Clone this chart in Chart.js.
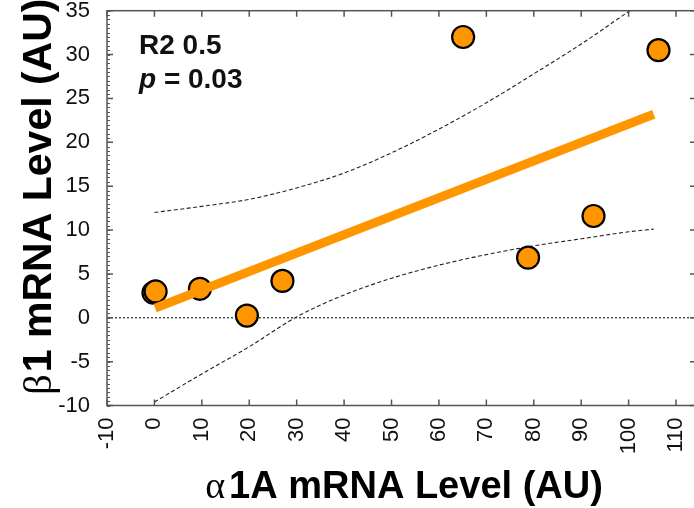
<!DOCTYPE html>
<html><head><meta charset="utf-8">
<script src="https://cdn.jsdelivr.net/npm/chart.js@4.4.0/dist/chart.umd.min.js"></script>
<style>
html,body{margin:0;padding:0;background:#fff;overflow:hidden;width:694px;height:508px}
#wrap{position:absolute;left:0;top:0;width:700px;height:508px}
</style></head>
<body><div id="wrap"><canvas id="c" width="700" height="508"></canvas></div>
<script>
// ---- data ----
const xTickValues = [-10, 0, 10, 20, 30, 40, 50, 60, 70, 80, 90, 100, 110];
const yTickValues = [-10, -5, 0, 5, 10, 15, 20, 25, 30, 35];
const sampleX = [-0.2, 0.25, 9.6, 19.5, 27.0, 65.1, 78.8, 92.6, 106.3];
const sampleY = [2.85, 3.0, 3.3, 0.25, 4.2, 32.0, 6.85, 11.6, 30.5];
const fitX = [0.15, 105.3];
const fitY = [1.1, 23.2];
const bandX = [0, 10, 20, 30, 40, 50, 60, 70, 80, 90, 100, 105.3];
const upperY = [12.0, 12.7, 13.5, 14.8, 16.5, 18.8, 21.5, 24.5, 27.8, 31.2, 34.9, 36.8];
const lowerY = [-9.6, -6.4, -3.3, 0.1, 2.6, 4.5, 6.0, 7.2, 8.2, 9.0, 9.8, 10.1];
const refLineY = 0;
const statLine1 = "R2 0.5";
const statP = "p";
const statLine2 = " = 0.03";
const xTitleGreek = "\u03B1";
const xTitleRest = "1A mRNA Level (AU)";
const yTitleGreek = "\u03B2";
const yTitleRest = "1 mRNA Level (AU)";

const zip = (xs, ys) => xs.map((x, i) => ({x: x, y: ys[i]}));

const ORANGE = '#FF9600';
const SANS = '"Liberation Sans", Arial, Helvetica, sans-serif';
const SERIF = '"Liberation Serif", "DejaVu Serif", serif';

const decor = {
  id: 'decor',
  beforeDatasetsDraw(chart) {
    const {ctx, chartArea: a, scales: {y}} = chart;
    const py = y.getPixelForValue(refLineY);
    ctx.save();
    ctx.strokeStyle = '#222';
    ctx.lineWidth = 1.2;
    ctx.setLineDash([2, 2]);
    ctx.beginPath(); ctx.moveTo(a.left, py); ctx.lineTo(a.right, py); ctx.stroke();
    ctx.restore();
  },
  afterDraw(chart) {
    const {ctx, chartArea: a, scales: {x, y}} = chart;
    ctx.save();
    ctx.strokeStyle = '#555';
    ctx.lineWidth = 1.5;
    ctx.strokeRect(a.left, a.top, a.right - a.left, a.bottom - a.top);
    ctx.beginPath();
    xTickValues.forEach(v => {
      const px = x.getPixelForValue(v);
      ctx.moveTo(px, a.bottom); ctx.lineTo(px, a.bottom - 6);
      ctx.moveTo(px, a.top); ctx.lineTo(px, a.top + 6);
    });
    yTickValues.forEach(v => {
      const py = y.getPixelForValue(v);
      ctx.moveTo(a.left, py); ctx.lineTo(a.left + 6, py);
      ctx.moveTo(a.right, py); ctx.lineTo(a.right - 5, py);
    });
    ctx.stroke();
    ctx.lineWidth = 1;
    ctx.beginPath();
    for (let v = y.min; v <= y.max; v += 0.5) {
      const py = Math.round(y.getPixelForValue(v)) + 0.5;
      ctx.moveTo(a.left, py); ctx.lineTo(a.left + 3, py);
    }
    ctx.stroke();

    // stats annotation
    ctx.fillStyle = '#111';
    ctx.textBaseline = 'alphabetic';
    ctx.textAlign = 'left';
    ctx.font = 'bold 28px ' + SANS;
    ctx.fillText(statLine1, 139, 54);
    ctx.font = 'italic bold 28px ' + SANS;
    ctx.fillText(statP, 139, 88);
    const pw = ctx.measureText(statP).width;
    ctx.font = 'bold 28px ' + SANS;
    ctx.fillText(statLine2, 139 + pw, 88);

    // x title
    ctx.fillStyle = '#000';
    ctx.font = '38px ' + SERIF;
    const gw = ctx.measureText(xTitleGreek).width;
    ctx.font = 'bold 38px ' + SANS;
    const rw = ctx.measureText(xTitleRest).width;
    const cx = 404;
    let sx = cx - (gw + rw + 4) / 2;
    ctx.font = '38px ' + SERIF;
    ctx.fillText(xTitleGreek, sx, 498);
    ctx.font = 'bold 38px ' + SANS;
    ctx.fillText(xTitleRest, sx + gw + 4, 498);

    // y title
    ctx.translate(51, 395);
    ctx.rotate(-Math.PI / 2);
    ctx.font = '41px ' + SERIF;
    const bw = ctx.measureText(yTitleGreek).width;
    ctx.fillText(yTitleGreek, 0, 0);
    ctx.font = 'bold 41px ' + SANS;
    ctx.fillText(yTitleRest, bw + 2, 0);
    ctx.restore();
  }
};

const zeroPad = s => { s.paddingLeft = 0; s.paddingRight = 0; s.paddingTop = 0; s.paddingBottom = 0; };

new Chart(document.getElementById('c'), {
  type: 'scatter',
  data: {
    datasets: [
      { label: 'fit', data: zip(fitX, fitY), showLine: true, borderColor: ORANGE,
        borderWidth: 9, pointRadius: 0, borderCapStyle: 'butt', order: 0 },
      { label: 'samples', data: zip(sampleX, sampleY), backgroundColor: ORANGE,
        borderColor: '#000', borderWidth: 2.2, pointRadius: 11, order: 1 },
      { label: 'upper', data: zip(bandX, upperY), showLine: true, borderColor: '#222',
        borderWidth: 1.1, borderDash: [4, 2.5], pointRadius: 0, cubicInterpolationMode: 'monotone', order: 2 },
      { label: 'lower', data: zip(bandX, lowerY), showLine: true, borderColor: '#222',
        borderWidth: 1.1, borderDash: [4, 2.5], pointRadius: 0, cubicInterpolationMode: 'monotone', order: 2 }
    ]
  },
  options: {
    responsive: false,
    devicePixelRatio: 1,
    animation: false,
    layout: { autoPadding: false, padding: { left: 0, top: 10.7, right: 5, bottom: 0 } },
    plugins: { legend: { display: false }, tooltip: { enabled: false } },
    scales: {
      x: {
        type: 'linear', min: -10, max: 114,
        afterBuildTicks: s => { s.ticks = xTickValues.map(v => ({value: v})); },
        afterFit: s => { s.height = 102.5; zeroPad(s); },
        grid: { display: false, drawTicks: false },
        border: { display: false },
        ticks: { autoSkip: false, maxRotation: 90, minRotation: 90, padding: 12,
                 color: '#111', font: { family: SANS, size: 22 } }
      },
      y: {
        type: 'linear', min: -10, max: 35,
        afterBuildTicks: s => { s.ticks = yTickValues.map(v => ({value: v})); },
        afterFit: s => { s.width = 107; zeroPad(s); },
        grid: { display: false, drawTicks: false },
        border: { display: false },
        ticks: { autoSkip: false, padding: 17, color: '#111', font: { family: SANS, size: 22 } }
      }
    }
  },
  plugins: [decor]
});
</script>
</body></html>
